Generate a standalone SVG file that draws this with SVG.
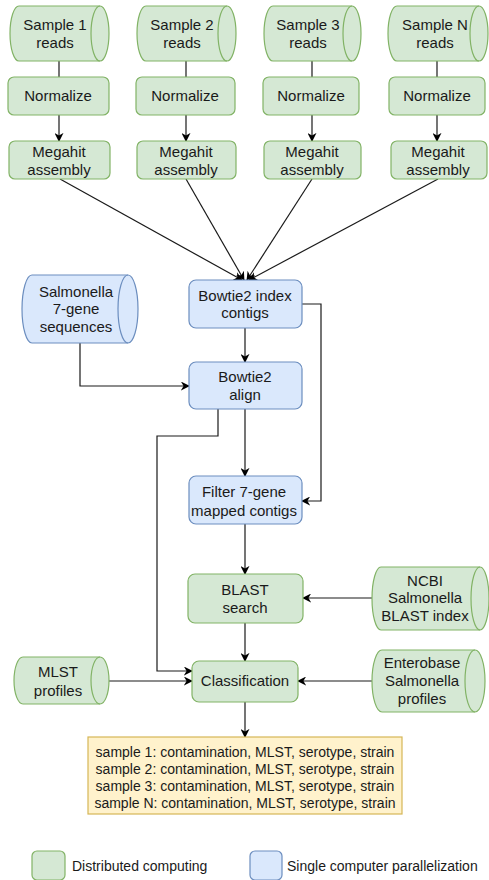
<svg xmlns="http://www.w3.org/2000/svg" width="489" height="880" viewBox="0 0 489 880">
<defs>
<style>
.g{fill:#d5e8d4;stroke:#82b366;stroke-width:1.2}
.b{fill:#dae8fc;stroke:#6c8ebf;stroke-width:1.2}
.y{fill:#fff2cc;stroke:#d6b656;stroke-width:1.2}
.gi{fill:none;stroke:#82b366;stroke-width:1.2}
.bi{fill:none;stroke:#6c8ebf;stroke-width:1.2}
.t{font-family:"Liberation Sans",Arial,sans-serif;font-size:15px;fill:#1a1a1a;text-anchor:middle}
.o{font-family:"Liberation Sans",Arial,sans-serif;font-size:14px;fill:#1a1a1a;text-anchor:middle}
.l{font-family:"Liberation Sans",Arial,sans-serif;font-size:14px;fill:#1a1a1a}
.c{fill:none;stroke:#1a1a1a;stroke-width:1.2}
</style>
<marker id="a" viewBox="0 0 10 10" refX="9" refY="5" markerWidth="9" markerHeight="9" markerUnits="userSpaceOnUse" orient="auto">
<path d="M0,0 L10,5 L0,10 L3,5 Z" fill="#000"/>
</marker>
</defs>

<g id="connectors">
<path class="c" d="M59,61 V77"/>
<path class="c" d="M186,61 V77"/>
<path class="c" d="M312,61 V77"/>
<path class="c" d="M437,61 V77"/>
<path class="c" d="M59,115 V141" marker-end="url(#a)"/>
<path class="c" d="M186,115 V141" marker-end="url(#a)"/>
<path class="c" d="M312,115 V141" marker-end="url(#a)"/>
<path class="c" d="M437,115 V141" marker-end="url(#a)"/>
<path class="c" d="M60,179 L242,280" marker-end="url(#a)"/>
<path class="c" d="M186,179 L244,280" marker-end="url(#a)"/>
<path class="c" d="M312,179 L247,280" marker-end="url(#a)"/>
<path class="c" d="M438,179 L249,280" marker-end="url(#a)"/>
<path class="c" d="M245,328 V362" marker-end="url(#a)"/>
<path class="c" d="M80,343 V386 H189" marker-end="url(#a)"/>
<path class="c" d="M302,304 H321 V501 H302" marker-end="url(#a)"/>
<path class="c" d="M245,409 V476" marker-end="url(#a)"/>
<path class="c" d="M218,409 V436 H157 V671 H192" marker-end="url(#a)"/>
<path class="c" d="M245,524 V574" marker-end="url(#a)"/>
<path class="c" d="M372,598 H303" marker-end="url(#a)"/>
<path class="c" d="M245,623 V661" marker-end="url(#a)"/>
<path class="c" d="M372,681 H298" marker-end="url(#a)"/>
<path class="c" d="M109,681 H192" marker-end="url(#a)"/>
<path class="c" d="M245,702 V737" marker-end="url(#a)"/>
</g>

<g id="sample1">
<path class="g" d="M19,6 H100 A9,27.5 0 0 1 100,61 H19 A9,27.5 0 0 1 19,6 Z"/>
<path class="gi" d="M100,6 A9,27.5 0 0 0 100,61"/>
<text class="t" x="55" y="30">Sample 1</text><text class="t" x="55" y="48">reads</text>
</g>
<g id="sample2">
<path class="g" d="M146,6 H227 A9,27.5 0 0 1 227,61 H146 A9,27.5 0 0 1 146,6 Z"/>
<path class="gi" d="M227,6 A9,27.5 0 0 0 227,61"/>
<text class="t" x="182" y="30">Sample 2</text><text class="t" x="182" y="48">reads</text>
</g>
<g id="sample3">
<path class="g" d="M273,6 H352 A9,27.5 0 0 1 352,61 H273 A9,27.5 0 0 1 273,6 Z"/>
<path class="gi" d="M352,6 A9,27.5 0 0 0 352,61"/>
<text class="t" x="308" y="30">Sample 3</text><text class="t" x="308" y="48">reads</text>
</g>
<g id="sampleN">
<path class="g" d="M397,6 H479 A9,27.5 0 0 1 479,61 H397 A9,27.5 0 0 1 397,6 Z"/>
<path class="gi" d="M479,6 A9,27.5 0 0 0 479,61"/>
<text class="t" x="435" y="30">Sample N</text><text class="t" x="435" y="48">reads</text>
</g>

<g id="norm1"><rect class="g" x="8" y="77" width="101" height="38" rx="6"/><text class="t" x="58" y="101">Normalize</text></g>
<g id="norm2"><rect class="g" x="136" y="77" width="99" height="38" rx="6"/><text class="t" x="185" y="101">Normalize</text></g>
<g id="norm3"><rect class="g" x="263" y="77" width="96" height="38" rx="6"/><text class="t" x="311" y="101">Normalize</text></g>
<g id="normN"><rect class="g" x="389" y="77" width="96" height="38" rx="6"/><text class="t" x="437" y="101">Normalize</text></g>

<g id="mega1"><rect class="g" x="9" y="141" width="101" height="38" rx="6"/><text class="t" x="59" y="157">Megahit</text><text class="t" x="59" y="175">assembly</text></g>
<g id="mega2"><rect class="g" x="137" y="141" width="99" height="38" rx="6"/><text class="t" x="186" y="157">Megahit</text><text class="t" x="186" y="175">assembly</text></g>
<g id="mega3"><rect class="g" x="264" y="141" width="97" height="38" rx="6"/><text class="t" x="312" y="157">Megahit</text><text class="t" x="312" y="175">assembly</text></g>
<g id="megaN"><rect class="g" x="391" y="141" width="96" height="38" rx="6"/><text class="t" x="438" y="157">Megahit</text><text class="t" x="438" y="175">assembly</text></g>

<g id="bowtie-index"><rect class="b" x="189" y="280" width="113" height="48" rx="7"/><text class="t" x="245" y="301">Bowtie2 index</text><text class="t" x="245" y="318">contigs</text></g>

<g id="salmonella">
<path class="b" d="M32,275 H128 A10,34 0 0 1 128,343 H32 A10,34 0 0 1 32,275 Z"/>
<path class="bi" d="M128,275 A10,34 0 0 0 128,343"/>
<text class="t" x="76" y="297">Salmonella</text><text class="t" x="76" y="314">7-gene</text><text class="t" x="76" y="332">sequences</text>
</g>

<g id="bowtie-align"><rect class="b" x="189" y="362" width="113" height="47" rx="7"/><text class="t" x="245" y="382">Bowtie2</text><text class="t" x="245" y="400">align</text></g>

<g id="filter"><rect class="b" x="189" y="476" width="113" height="48" rx="7"/><text class="t" x="244" y="497">Filter 7-gene</text><text class="t" x="244" y="516">mapped contigs</text></g>

<g id="blast"><rect class="g" x="188" y="574" width="115" height="49" rx="7"/><text class="t" x="245" y="595">BLAST</text><text class="t" x="245" y="613">search</text></g>

<g id="ncbi">
<path class="g" d="M381,567 H480 A9,31.5 0 0 1 480,630 H381 A9,31.5 0 0 1 381,567 Z"/>
<path class="gi" d="M480,567 A9,31.5 0 0 0 480,630"/>
<text class="t" x="425" y="586">NCBI</text><text class="t" x="425" y="603">Salmonella</text><text class="t" x="425" y="621">BLAST index</text>
</g>

<g id="classification"><rect class="g" x="192" y="661" width="106" height="41" rx="7"/><text class="t" x="245" y="686">Classification</text></g>

<g id="enterobase">
<path class="g" d="M382,650 H475 A10,31 0 0 1 475,712 H382 A10,31 0 0 1 382,650 Z"/>
<path class="gi" d="M475,650 A10,31 0 0 0 475,712"/>
<text class="t" x="422" y="668">Enterobase</text><text class="t" x="422" y="686">Salmonella</text><text class="t" x="422" y="704">profiles</text>
</g>

<g id="mlst">
<path class="g" d="M23,657 H100 A9,23.5 0 0 1 100,704 H23 A9,23.5 0 0 1 23,657 Z"/>
<path class="gi" d="M100,657 A9,23.5 0 0 0 100,704"/>
<text class="t" x="58" y="677">MLST</text><text class="t" x="58" y="696">profiles</text>
</g>

<g id="output">
<rect class="y" x="88" y="737" width="314" height="77"/>
<text class="o" x="245" y="757">sample 1: contamination, MLST, serotype, strain</text>
<text class="o" x="245" y="774">sample 2: contamination, MLST, serotype, strain</text>
<text class="o" x="245" y="791">sample 3: contamination, MLST, serotype, strain</text>
<text class="o" x="245" y="808">sample N: contamination, MLST, serotype, strain</text>
</g>

<g id="legend">
<rect class="g" x="32" y="851" width="33" height="29" rx="5"/>
<text class="l" x="72" y="871">Distributed computing</text>
<rect class="b" x="250" y="851" width="32" height="29" rx="5"/>
<text class="l" x="287" y="871">Single computer parallelization</text>
</g>
</svg>
